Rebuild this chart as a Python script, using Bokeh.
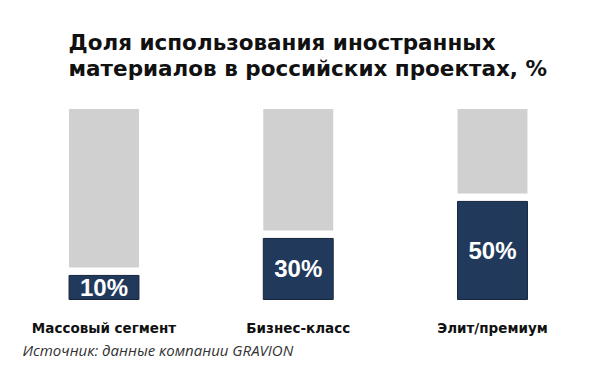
from bokeh.plotting import figure
from bokeh.models import ColumnDataSource, Range1d, Label
from bokeh.core.properties import value
from bokeh.embed import file_html
from bokeh.resources import INLINE

# ---- data ----
categories = ["Массовый сегмент", "Бизнес-класс", "Элит/премиум"]
shares = [10, 30, 50]
total = 100
value_labels = ["10%", "30%", "50%"]
title_lines = ["Доля использования иностранных", "материалов в российских проектах, %"]
source_text = "Источник: данные компании GRAVION"

# ---- style ----
NAVY = "#213a5c"
GREY = "#d0d0d0"
BASE = -3          # visual baseline of the bars
GAP = 4.3          # gap between navy and grey, in value units
W, H = 600, 365

xs = list(range(len(categories)))
src = ColumnDataSource(dict(
    x=xs,
    share=shares,
    base=[BASE] * len(shares),
    grey_bottom=[s + GAP for s in shares],
    grey_top=[total] * len(shares),
    mid=[(s + BASE) / 2 for s in shares],
    vlabel=value_labels,
    cat=categories,
))

p = figure(width=W, height=H, output_backend="svg", toolbar_location=None,
           x_range=Range1d(-0.5328, 2.556), y_range=Range1d(-38.68, 158.6),
           min_border=0, outline_line_color=None, tools="")
p.axis.visible = False
p.grid.visible = False
p.background_fill_color = "white"
p.border_fill_color = "white"

p.vbar(x="x", width=0.36, bottom="grey_bottom", top="grey_top", source=src,
       fill_color=GREY, line_color=None)
p.vbar(x="x", width=0.36, bottom="base", top="share", source=src,
       fill_color=NAVY, line_color="#15263d", line_width=1)

p.text(x="x", y="mid", text="vlabel", source=src, text_align="center",
       text_baseline="middle", text_color="white", text_font=value("Liberation Sans"),
       text_font_style="bold", text_font_size="24px")

p.text(x="x", y="base", text="cat", source=src, text_align="center",
       text_baseline="alphabetic", y_offset=29, text_color="#111111",
       text_font=value("DejaVu Sans"), text_font_style="bold", text_font_size="13.5px")

for i, line in enumerate(title_lines):
    p.add_layout(Label(x=68, y=323 - 26 * i, x_units="screen", y_units="screen",
                       text=line, text_font="DejaVu Sans", text_font_style="bold",
                       text_font_size="21.5px", text_color="#111111",
                       text_baseline="alphabetic"))

p.add_layout(Label(x=22, y=16, x_units="screen", y_units="screen",
                   text=source_text, text_font="Open Sans", text_font_style="italic",
                   text_font_size="15px", text_color="#333333",
                   text_baseline="alphabetic"))

open("out.html", "w").write(file_html(p, INLINE))
